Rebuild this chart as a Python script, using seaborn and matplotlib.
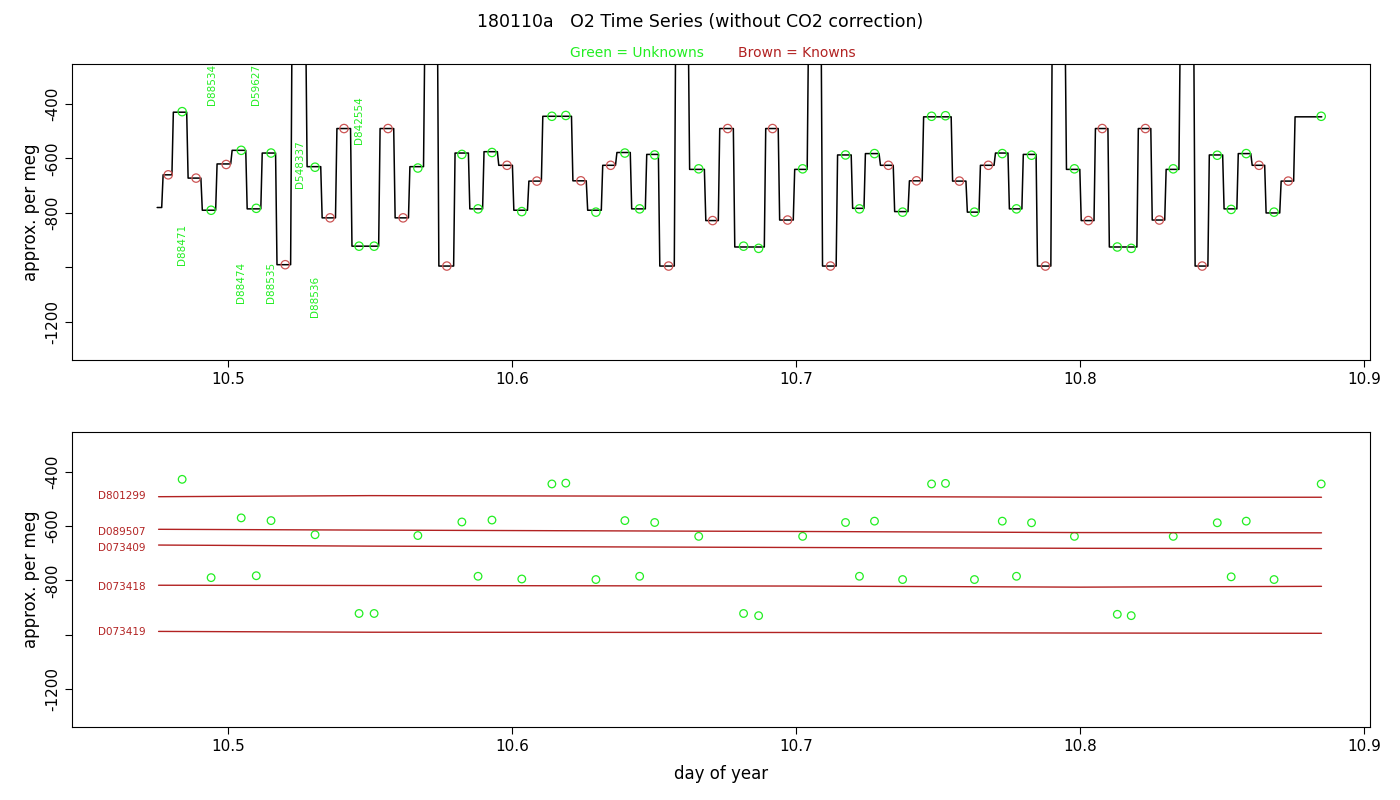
import matplotlib
matplotlib.use("Agg")
import matplotlib.pyplot as plt
import seaborn as sns
import pandas as pd
import numpy as np

# plateau start times (day of year) and levels (per meg) of the trace
seg_start = [10.4750, 10.4771, 10.4807, 10.4859, 10.4909, 10.4961, 10.5014, 10.5067, 10.5120, 10.5172,
             10.5225, 10.5278, 10.5331, 10.5383, 10.5436, 10.5535, 10.5588, 10.5640, 10.5693, 10.5742,
             10.5799, 10.5851, 10.5901, 10.5953, 10.6006, 10.6059, 10.6108, 10.6214, 10.6266, 10.6319,
             10.6369, 10.6421, 10.6474, 10.6520, 10.6576, 10.6625, 10.6682, 10.6731, 10.6784, 10.6893,
             10.6942, 10.6995, 10.7044, 10.7093, 10.7146, 10.7199, 10.7244, 10.7297, 10.7347, 10.7399,
             10.7449, 10.7551, 10.7603, 10.7649, 10.7702, 10.7751, 10.7800, 10.7850, 10.7902, 10.7952,
             10.8004, 10.8054, 10.8103, 10.8205, 10.8254, 10.8303, 10.8353, 10.8405, 10.8455, 10.8507,
             10.8557, 10.8606, 10.8655, 10.8708, 10.8757]
seg_level = [-780, -660, -430, -672, -790, -620, -570, -785, -580, -990,
             -100, -630, -818, -490, -922, -490, -818, -630, -100, -995,
             -580, -785, -575, -625, -790, -683, -445, -682, -790, -625,
             -578, -785, -585, -995, -100, -640, -828, -490, -925, -490,
             -826, -640, -100, -995, -587, -783, -582, -625, -795, -682,
             -447, -683, -797, -625, -580, -785, -585, -995, -100, -640,
             -828, -490, -925, -490, -826, -640, -100, -995, -587, -785,
             -582, -625, -800, -683, -447]
trace_end = 10.8856

unk_t = [10.4838, 10.4940, 10.5046, 10.5099, 10.5151, 10.5306, 10.5461, 10.5514, 10.5668, 10.5823,
         10.5880, 10.5929, 10.6034, 10.6140, 10.6189, 10.6295, 10.6397, 10.6449, 10.6502, 10.6657,
         10.6815, 10.6868, 10.7023, 10.7174, 10.7223, 10.7276, 10.7375, 10.7477, 10.7526, 10.7628,
         10.7726, 10.7776, 10.7829, 10.7980, 10.8131, 10.8180, 10.8328, 10.8483, 10.8532, 10.8585,
         10.8683, 10.8849]
unk_v = [-428, -790, -570, -783, -580, -632, -922, -922, -635, -585,
         -785, -578, -795, -445, -442, -797, -580, -785, -587, -638,
         -922, -930, -638, -587, -785, -582, -797, -445, -443, -797,
         -582, -785, -588, -638, -925, -930, -638, -588, -787, -582,
         -797, -445]

kn_t = [10.4789, 10.4887, 10.4993, 10.5201, 10.5359, 10.5408, 10.5563, 10.5616, 10.5770, 10.5982,
        10.6087, 10.6242, 10.6347, 10.6551, 10.6706, 10.6759, 10.6917, 10.6970, 10.7121, 10.7325,
        10.7424, 10.7575, 10.7677, 10.7878, 10.8029, 10.8078, 10.8230, 10.8279, 10.8430, 10.8630,
        10.8733]
kn_v = [-660, -672, -622, -990, -818, -490, -490, -818, -995, -625,
        -683, -682, -625, -995, -828, -490, -490, -826, -995, -625,
        -682, -683, -625, -995, -828, -490, -490, -826, -995, -625,
        -683]

unk_labels = ["D88471", "D88534", "D88474", "D59627", "D88535", "D548337", "D88536", "D842554"]
unk_label_t = [10.4838, 10.4943, 10.5046, 10.5099, 10.5151, 10.5253, 10.5306, 10.5461]
unk_label_v = [-914, -327, -1057, -327, -1057, -620, -1108, -459]

std_names = ["D801299", "D089507", "D073409", "D073418", "D073419"]
std_label_v = [-491, -623, -682, -825, -990]
std_t = [10.4755, 10.55, 10.70, 10.80, 10.885]
std_curves = {
    "D801299": [-492, -488, -491, -494, -494],
    "D089507": [-612, -615, -620, -624, -625],
    "D073409": [-670, -674, -679, -682, -683],
    "D073418": [-818, -819, -821, -825, -822],
    "D073419": [-988, -991, -992, -994, -995],
}

GREEN = "#22ee22"
BROWN = "#b22222"

tt, vv = [], []
for i, (s, lv) in enumerate(zip(seg_start, seg_level)):
    e = (seg_start[i + 1] if i + 1 < len(seg_start) else trace_end) - 0.0005
    tt += [s, e]
    vv += [lv, lv]
trace = pd.DataFrame({"t": tt, "v": vv})
unk = pd.DataFrame({"t": unk_t, "v": unk_v})
kn = pd.DataFrame({"t": kn_t, "v": kn_v})

sns.set_style("white")
plt.rcParams["text.color"] = "black"
plt.rcParams["axes.labelcolor"] = "black"
fig = plt.figure(figsize=(14, 8), dpi=100)
ax1 = fig.add_axes([0.0514, 0.55, 0.927, 0.37])
ax2 = fig.add_axes([0.0514, 0.09125, 0.927, 0.369])

sns.lineplot(data=trace, x="t", y="v", sort=False, estimator=None, color="black", lw=1.1, ax=ax1)
sns.scatterplot(data=unk, x="t", y="v", ax=ax1, s=36, facecolor="none", edgecolor=GREEN, linewidth=0.9, zorder=3)
sns.scatterplot(data=kn, x="t", y="v", ax=ax1, s=36, facecolor="none", edgecolor="#cc5555", linewidth=0.9, zorder=3)
for lab, t, v in zip(unk_labels, unk_label_t, unk_label_v):
    ax1.text(t, v, lab, rotation=90, color=GREEN, fontsize=7.5, ha="center", va="center")

sns.scatterplot(data=unk, x="t", y="v", ax=ax2, s=30, facecolor="none", edgecolor=GREEN, linewidth=0.9)
for name, lv in zip(std_names, std_label_v):
    d = pd.DataFrame({"t": std_t, "v": std_curves[name]})
    sns.lineplot(data=d, x="t", y="v", ax=ax2, color=BROWN, lw=1.0, estimator=None)
    ax2.text(10.4543, lv, name, color=BROWN, fontsize=7.5, ha="left", va="center")

for ax in (ax1, ax2):
    ax.set_xlim(10.445, 10.902)
    ax.set_ylim(-1340, -253)
    ax.set_xticks([10.5, 10.6, 10.7, 10.8, 10.9])
    ax.set_xticklabels(["10.5", "10.6", "10.7", "10.8", "10.9"], fontsize=11)
    ax.set_yticks([-400, -600, -800, -1000, -1200])
    ax.set_yticklabels(["-400", "-600", "-800", "", "-1200"], fontsize=11, rotation=90, va="center")
    ax.tick_params(direction="out", length=5, left=True, bottom=True, color="black", labelcolor="black")
    for sp in ax.spines.values():
        sp.set_color("black")
        sp.set_linewidth(0.8)
    ax.set_ylabel("approx. per meg", fontsize=12, color="black")
    ax.set_xlabel("")
ax2.set_xlabel("day of year", fontsize=12, labelpad=8, color="black")

fig.text(0.5, 0.972, "180110a   O2 Time Series (without CO2 correction)", ha="center", va="center", fontsize=12.5, color="black")
fig.text(0.455, 0.934, "Green = Unknowns", color=GREEN, ha="center", va="center", fontsize=10)
fig.text(0.569, 0.934, "Brown = Knowns", color=BROWN, ha="center", va="center", fontsize=10)

fig.savefig("out.png", dpi=100)
